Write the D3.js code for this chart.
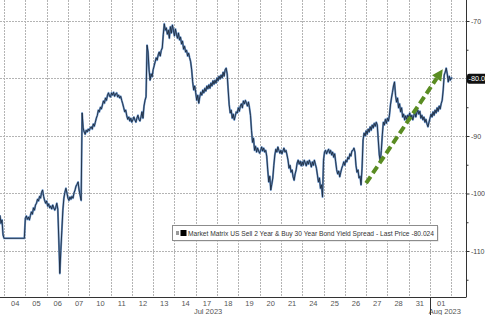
<!DOCTYPE html>
<html>
<head>
<meta charset="utf-8">
<script src="https://cdn.jsdelivr.net/npm/d3@7"></script>
<style>
  html, body { margin: 0; padding: 0; background: #fff; }
  svg { display: block; font-family: "Liberation Sans", Arial, sans-serif; }
</style>
</head>
<body>
<div id="chart"></div>
<script>
// trading days shown on the x axis (Jul 4 -> Aug 1)
const dayLabels = ["04", "05", "06", "07", "10", "11", "12", "13", "14", "17", "18",
  "19", "20", "21", "24", "25", "26", "27", "28", "31", "01"];
const monthLabels = ["Jul 2023", "Aug 2023"];
const monthAt = [9.58, 20.7]; // in trading days
const yTicks = [-70, -80, -90, -100, -110];
const yMinorTicks = [-75, -85, -95, -105, -115];
const lastPrice = -80.024;
const legendLabel = "Market Matrix US Sell 2 Year & Buy 30 Year Bond Yield Spread - Last Price -80.024";
const arrowFrom = [17.0, -98.2]; // [trading day, bp]
const arrowTo = [20.6, -78.4];

// intraday spread (bp), one reading every 1/21 of a trading day
const jul03 = [-103.8, -105.2, -104.6, -107.2]; // tail of the session
const jul04 = [-107.8, -107.8, -107.8, -107.8, -107.8, -107.8, -107.8, -107.8, -107.8, -107.8, -107.8,
  -107.8, -107.8, -107.8, -107.8, -107.8, -107.8, -107.8, -107.8, -107.8, -107.8];
const jul05 = [-104.3, -103.9, -104.5, -104.1, -104.6, -103.8, -103.2, -103.6, -102.5, -102.9, -102.0,
  -101.7, -101.0, -101.3, -100.5, -100.8, -99.8, -99.4, -100.5, -101.2, -101.7];
const jul06 = [-101.3, -102.2, -101.8, -102.5, -102.2, -102.7, -102.0, -102.5, -102.9, -102.4, -101.7,
  -102.7, -108.1, -113.9, -109.9, -106.4, -102.9, -100.8, -99.8, -99.1, -99.9];
const jul07 = [-100.8, -101.2, -100.6, -101.0, -100.5, -100.8, -99.9, -99.4, -98.7, -98.4, -98.0,
  -99.4, -100.3, -101.2, -86.0, -88.6, -89.3, -89.7, -89.0, -89.3, -88.8];
const jul10 = [-89.1, -88.6, -88.4, -88.8, -87.9, -88.3, -87.6, -86.9, -86.4, -85.5, -85.8,
  -85.0, -85.3, -84.6, -83.9, -84.3, -83.4, -83.8, -82.9, -82.5, -83.1];
const jul11 = [-83.2, -82.5, -82.9, -82.4, -83.1, -82.7, -82.5, -83.2, -82.9, -83.4, -83.1,
  -83.8, -84.4, -85.1, -85.8, -85.5, -86.5, -87.1, -86.7, -87.4, -86.9];
const jul12 = [-87.6, -87.2, -86.7, -87.2, -87.6, -86.9, -86.4, -87.1, -87.4, -86.7, -85.8,
  -86.9, -84.8, -83.8, -83.2, -74.2, -75.4, -78.5, -80.3, -79.2, -79.7];
const jul13 = [-78.5, -77.8, -77.1, -76.4, -76.8, -75.9, -75.4, -76.1, -75.1, -74.7, -72.4,
  -70.5, -71.6, -71.2, -72.3, -71.6, -73.0, -71.0, -72.1, -70.7, -71.6];
const jul14 = [-72.6, -71.4, -72.3, -73.0, -72.1, -73.3, -72.8, -74.0, -73.5, -74.9, -74.4,
  -75.4, -75.1, -76.1, -75.6, -76.4, -77.1, -78.5, -80.6, -82.0, -81.3];
const jul17 = [-82.5, -83.8, -82.9, -84.3, -83.2, -82.4, -82.9, -82.0, -82.5, -81.7, -82.2,
  -81.3, -81.8, -81.1, -81.7, -80.8, -81.3, -80.4, -81.0, -80.3, -80.8];
const jul18 = [-79.9, -80.4, -79.6, -80.1, -79.4, -79.9, -78.9, -79.6, -78.5, -78.2, -79.2,
  -82.0, -84.6, -86.0, -85.5, -86.9, -86.2, -87.2, -86.5, -85.8, -86.0];
const jul19 = [-85.1, -85.7, -84.8, -84.4, -85.1, -83.9, -84.4, -83.8, -84.3, -84.8, -84.1,
  -85.1, -86.4, -89.0, -91.1, -90.4, -92.5, -91.8, -92.8, -92.1, -92.6];
const jul20 = [-93.0, -92.5, -91.9, -92.6, -92.1, -92.8, -92.5, -93.5, -95.9, -98.0, -97.0,
  -99.4, -98.4, -97.3, -95.1, -93.3, -92.3, -92.8, -91.9, -92.5, -93.0];
const jul21 = [-92.5, -93.1, -92.6, -92.1, -92.8, -92.5, -93.3, -94.2, -95.6, -95.1, -96.3,
  -95.9, -97.1, -97.7, -96.6, -95.9, -94.7, -94.2, -94.9, -94.4, -95.2];
const jul24 = [-94.5, -95.1, -94.2, -94.7, -95.2, -94.4, -94.9, -94.2, -94.7, -95.4, -94.5,
  -95.1, -94.2, -94.9, -95.6, -96.8, -98.0, -97.3, -99.1, -98.5, -100.6];
const jul25 = [-94.2, -92.8, -92.5, -93.1, -92.6, -92.3, -93.0, -92.5, -93.3, -92.8, -93.7,
  -93.1, -94.5, -95.9, -96.6, -96.1, -97.1, -96.3, -95.6, -95.1, -94.5];
const jul26 = [-95.1, -94.2, -94.5, -93.7, -94.0, -93.1, -93.5, -92.6, -92.5, -92.1, -92.8,
  -95.1, -96.3, -95.9, -97.3, -97.0, -98.5, -95.6, -90.7, -89.5, -90.0];
const jul27 = [-89.1, -89.7, -88.8, -89.3, -88.4, -89.0, -88.1, -88.6, -87.8, -88.3, -87.6,
  -88.1, -90.7, -93.3, -94.5, -92.5, -89.8, -87.6, -88.1, -87.1, -87.8];
const jul28 = [-86.9, -87.4, -86.4, -84.6, -83.4, -82.4, -81.3, -80.6, -82.9, -84.1, -83.4,
  -85.1, -84.4, -85.8, -85.1, -86.7, -86.2, -87.2, -86.5, -87.1, -86.4];
const jul31 = [-86.7, -86.0, -86.9, -86.4, -87.2, -86.5, -85.8, -86.7, -86.0, -85.5, -86.2,
  -85.7, -86.9, -86.4, -87.2, -86.7, -87.6, -87.1, -87.9, -88.4, -87.6];
const aug01 = [-86.9, -86.2, -86.7, -85.8, -86.4, -85.5, -86.0, -85.1, -85.7, -84.8, -85.3,
  -84.4, -83.8, -82.0, -79.4, -78.9, -78.2, -79.2, -80.6, -79.6, -80.3];
const aug02 = [-79.9, -80.024];

const perDay = 21;
const firstSample = -jul03.length / perDay;

const sessions = [jul03, jul04, jul05, jul06, jul07, jul10, jul11, jul12, jul13, jul14, jul17,
  jul18, jul19, jul20, jul21, jul24, jul25, jul26, jul27, jul28, jul31, aug01, aug02];
const series = [].concat(...sessions).map((v, i) => ({ t: firstSample + i / perDay, v: v }));

const width = 485, height = 315;
const plot = { right: 466, bottom: 297 };
const font = "Liberation Sans, Arial, sans-serif";

const svg = d3.select("#chart").append("svg")
  .attr("width", width)
  .attr("height", height);

const x = d3.scaleLinear().domain([-0.19, 21.69]).range([0, plot.right]);
const y = d3.scaleLinear().domain([-118, -66.35]).range([plot.bottom, 0]);

// grid: dotted, drawn as paths so the stroke settings apply directly
const gridPath = d3.path();
yTicks.forEach(d => {
  const py = Math.round(y(d)) + 0.5;
  gridPath.moveTo(0, py);
  gridPath.lineTo(plot.right, py);
});
d3.range(0, dayLabels.length + 1).forEach(d => {
  const px = Math.round(x(d)) + 0.5;
  gridPath.moveTo(px, 0);
  gridPath.lineTo(px, plot.bottom);
});

svg.append("path")
  .attr("class", "grid")
  .attr("d", gridPath.toString())
  .attr("fill", "none")
  .attr("stroke", "#b4b4b4")
  .attr("stroke-width", 1)
  .attr("stroke-dasharray", "2,1");

// series
const line = d3.line()
  .x(d => x(d.t))
  .y(d => y(d.v));

svg.append("path")
  .datum(series)
  .attr("fill", "none")
  .attr("stroke", "#7098ca")
  .attr("stroke-width", 2)
  .attr("stroke-linejoin", "round")
  .attr("d", line);

svg.append("path")
  .datum(series)
  .attr("fill", "none")
  .attr("stroke", "#1c2a3e")
  .attr("stroke-width", 0.9)
  .attr("stroke-linejoin", "round")
  .attr("d", line);

// trend arrow
const ax0 = x(arrowFrom[0]), ay0 = y(arrowFrom[1]);
const ax1 = x(arrowTo[0]), ay1 = y(arrowTo[1]);
const len = Math.hypot(ax1 - ax0, ay1 - ay0);
const ux = (ax1 - ax0) / len, uy = (ay1 - ay0) / len;
const headLen = 11, headHalf = 5.5;
const bx = ax1 - ux * headLen, by = ay1 - uy * headLen;

svg.append("line")
  .attr("x1", ax0).attr("y1", ay0)
  .attr("x2", bx).attr("y2", by)
  .attr("stroke", "#5a8c22")
  .attr("stroke-width", 4)
  .attr("stroke-dasharray", "8,4");

svg.append("path")
  .attr("d", `M${ax1},${ay1}L${bx - uy * headHalf},${by + ux * headHalf}L${bx + uy * headHalf},${by - ux * headHalf}Z`)
  .attr("fill", "#5a8c22");

// right axis (the -80 label is replaced by the last price tag)
const yAxis = svg.append("g")
  .attr("transform", `translate(${plot.right + 0.5},0)`)
  .call(d3.axisRight(y).tickValues(yTicks).tickSize(3).tickPadding(1.5)
    .tickFormat(d => Math.round(d) === Math.round(lastPrice) ? "" : String(d)));

yAxis.append("g")
  .call(d3.axisRight(y).tickValues(yMinorTicks).tickSize(2).tickFormat(""))
  .select(".domain").remove();

yAxis.select(".domain").attr("d", `M0,0V${plot.bottom}`);
yAxis.selectAll("line").attr("stroke", "#333");
yAxis.selectAll(".domain").attr("stroke", "#333");
yAxis.selectAll("text").attr("font-size", 7).attr("fill", "#444")
  .attr("font-family", font);

// bottom axis
const xAxis = svg.append("g")
  .attr("transform", `translate(0,${plot.bottom + 0.5})`)
  .call(d3.axisBottom(x)
    .tickValues(dayLabels.map((d, i) => i + 0.5))
    .tickSize(0)
    .tickPadding(3)
    .tickFormat((d, i) => dayLabels[i]));

xAxis.select(".domain").attr("stroke", "#333").attr("d", `M0,0H${plot.right + 0.5}`);
xAxis.selectAll("text").attr("font-size", 7.5).attr("fill", "#555")
  .attr("font-family", font);

svg.selectAll(".month")
  .data(monthLabels)
  .enter().append("text")
  .attr("x", (d, i) => x(monthAt[i]))
  .attr("y", 314)
  .attr("text-anchor", "middle")
  .attr("font-size", 7.5)
  .attr("fill", "#555")
  .text(d => d);

// month separator
svg.append("line")
  .attr("x1", Math.round(x(dayLabels.length - 1)) + 0.5)
  .attr("x2", Math.round(x(dayLabels.length - 1)) + 0.5)
  .attr("y1", plot.bottom)
  .attr("y2", height)
  .attr("stroke", "#333");

// last price tag
const tag = svg.append("g").attr("transform", `translate(${plot.right + 1},${y(lastPrice)})`);
tag.append("rect")
  .attr("x", 0).attr("y", -5)
  .attr("width", 20).attr("height", 10)
  .attr("rx", 2)
  .attr("fill", "#111");
tag.append("text")
  .attr("x", 1.5).attr("y", 2.6)
  .attr("font-size", 7.3)
  .attr("fill", "#fff")
  .text(d3.format(".1f")(lastPrice).replace("\u2212", "-"));

// legend
const legend = svg.append("g").attr("transform", "translate(172.5,225.5)");
legend.append("rect")
  .attr("x", 1).attr("y", 1)
  .attr("width", 265).attr("height", 15)
  .attr("fill", "#d8d8d8");
legend.append("rect")
  .attr("width", 265).attr("height", 15)
  .attr("fill", "#fff")
  .attr("stroke", "#8c8c8c");
legend.append("rect")
  .attr("x", 3.5).attr("y", 5.5)
  .attr("width", 3).attr("height", 4)
  .attr("fill", "#9a9a9a");
legend.append("rect")
  .attr("x", 8).attr("y", 4.5)
  .attr("width", 6).attr("height", 6)
  .attr("fill", "#000");
legend.append("text")
  .attr("x", 15.5).attr("y", 10.3)
  .attr("font-size", 6.5)
  .attr("fill", "#333")
  .attr("textLength", 246)
  .attr("lengthAdjust", "spacingAndGlyphs")
  .text(legendLabel);
</script>
</body>
</html>
